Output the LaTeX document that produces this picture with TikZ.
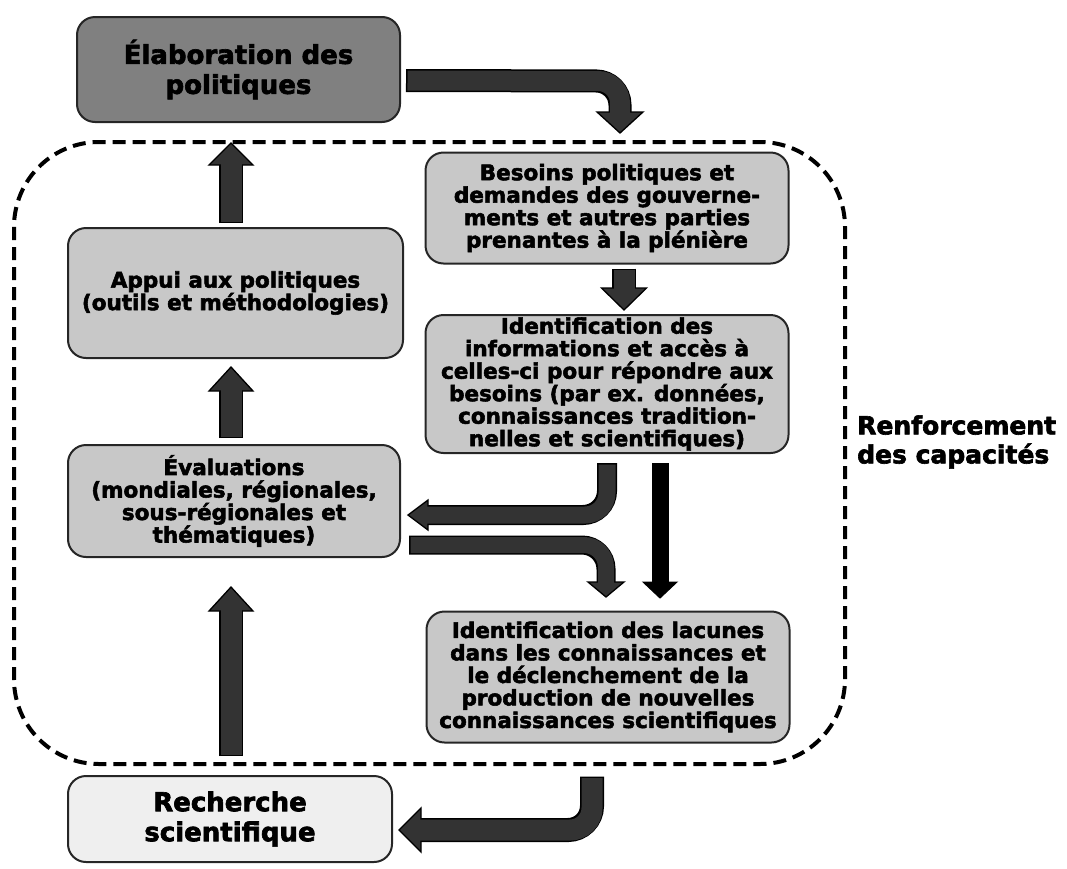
\documentclass[tikz,border=0pt]{standalone}
\usepackage{fontspec}
\setmainfont{DejaVu Sans}[BoldFeatures={FakeBold=2.5}]
\usetikzlibrary{calc}
\definecolor{elabgray}{HTML}{808080}
\definecolor{boxgray}{HTML}{C8C8C8}
\definecolor{palegray}{HTML}{EFEFEF}
\definecolor{arrowgray}{HTML}{333333}
\newcommand{\boxfont}{\bfseries\fontsize{21.5}{22.5}\selectfont}
\newcommand{\bigfont}{\bfseries\fontsize{26}{30}\selectfont}
\newcommand{\sidefont}{\bfseries\fontsize{25}{29}\selectfont}
\begin{document}
\begin{tikzpicture}[x=1pt,y=-1pt,
  box/.style={draw=black!85, line width=2pt, rounded corners=18pt, fill=boxgray,
    align=center, inner sep=0pt, font=\boxfont},
  bout/.style={draw=black, line width=#1, rounded corners=24pt},
  bin/.style={draw=arrowgray, line width=#1, rounded corners=22pt,
    shorten <=1.5pt, shorten >=-2.5pt},
  head/.style={fill=arrowgray, draw=black, line width=1.3pt, line join=miter},
  region/.style={draw=black, line width=4pt, dash pattern=on 13pt off 7pt, rounded corners=85pt}]
\useasboundingbox (0,0) rectangle (1067,868);

% boxes
\node[box, fill=elabgray, font=\bigfont, minimum width=323pt, minimum height=105pt] (elab) at (238.5,69.5) {Élaboration des\\politiques};
\node[box, minimum width=363pt, minimum height=111pt] (besoins) at (607,208) {Besoins politiques et\\demandes des gouverne-\\ments et autres parties\\prenantes à la plénière};
\node[box, minimum width=363pt, minimum height=138pt] (ident) at (607,384) {Identification des\\informations et accès à\\celles-ci pour répondre aux\\besoins (par ex. données,\\connaissances tradition-\\nelles et scientifiques)};
\node[box, minimum width=335pt, minimum height=130pt] (appui) at (235.5,293) {Appui aux politiques\\(outils et méthodologies)};
\node[box, minimum width=332pt, minimum height=112pt] (eval) at (234,501) {Évaluations\\(mondiales, régionales,\\sous-régionales et\\thématiques)};
\node[box, minimum width=363pt, minimum height=131pt] (lacunes) at (608,677) {Identification des lacunes\\dans les connaissances et\\le déclenchement de la\\production de nouvelles\\connaissances scientifiques};
\node[box, fill=palegray, font=\bigfont, minimum width=324pt, minimum height=86pt] (rech) at (230,819) {Recherche\\scientifique};

% dashed region
\draw[region] (14,142) rectangle (845,764);
\node[font=\sidefont, align=left, anchor=west, inner sep=0pt] (renf) at (857,442) {Renforcement\\des capacités};

% arrow 1: elab -> besoins
\coordinate (a1s) at ($(elab.east)+(5,11)$);
\draw[bout=23pt] (a1s) -- (620,81) -- (620,112);
\filldraw[head] (597,112) -- (620,133) -- (643,112) -- cycle;
\draw[bin=20pt] (a1s) -- (620,81) -- (620,112);

% arrow 2: appui -> elab
\coordinate (a2s) at ($(appui.north)+(-4.5,-4)$);
\draw[bout=24pt] (a2s) -- (231,165);
\filldraw[head] (209,165) -- (231,143) -- (253,165) -- cycle;
\draw[bin=21pt] (a2s) -- (231,165);

% arrow 3: eval -> appui
\coordinate (a3s) at ($(eval.north)+(-3,-6)$);
\draw[bout=24pt] (a3s) -- (231,391);
\filldraw[head] (209,391) -- (231,367) -- (253,391) -- cycle;
\draw[bin=21pt] (a3s) -- (231,391);

% arrow 4: rech -> eval
\coordinate (a4s) at ($(rech.north)+(1,-19)$);
\draw[bout=24pt] (a4s) -- (231,611);
\filldraw[head] (209,611) -- (231,587) -- (253,611) -- cycle;
\draw[bin=21pt] (a4s) -- (231,611);

% arrow 5: besoins -> ident
\coordinate (a5s) at ($(besoins.south)+(17,4)$);
\draw[bout=24pt] (a5s) -- (624,288);
\filldraw[head] (601.5,288) -- (624,310) -- (646.5,288) -- cycle;
\draw[bin=21pt] (a5s) -- (624,288);

% arrow 6: ident -> eval (bent)
\coordinate (a6s) at ($(ident.south)+(0,9)$);
\draw[bout=20pt] (a6s) -- (607,515) -- (428,515);
\filldraw[head] (428,500) -- (408,515) -- (428,530) -- cycle;
\draw[bin=17pt] (a6s) -- (607,515) -- (428,515);

% arrow 7: eval -> lacunes (bent)
\coordinate (a7s) at ($(eval.east)+(8,44)$);
\draw[bout=19pt] (a7s) -- (606,545) -- (606,582);
\filldraw[head] (588,582) -- (606,597) -- (624,582) -- cycle;
\draw[bin=16pt] (a7s) -- (606,545) -- (606,582);

% arrow 8: ident -> lacunes (straight, black)
\coordinate (a8s) at ($(ident.south)+(53,9)$);
\draw[draw=black, line width=17pt] (a8s) -- (660,583);
\filldraw[fill=black, draw=black, line width=1pt] (643,582) -- (660,598) -- (677,582) -- cycle;

% arrow 9: lacunes -> rech (bent)
\coordinate (a9s) at ($(lacunes.south)+(-16,33)$);
\draw[bout=24pt] (a9s) -- (592,830) -- (421,830);
\filldraw[head] (421,808) -- (399,830) -- (421,852) -- cycle;
\draw[bin=21pt] (a9s) -- (592,830) -- (421,830);
\end{tikzpicture}
\end{document}
